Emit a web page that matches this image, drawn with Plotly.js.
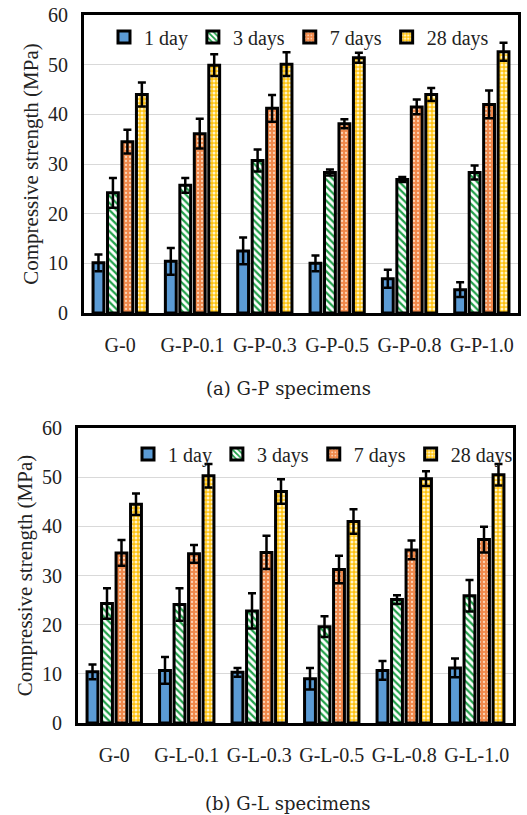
<!DOCTYPE html>
<html>
<head>
<meta charset="utf-8">
<script src="https://cdn.plot.ly/plotly-3.0.1.min.js"></script>
<style>html,body{margin:0;padding:0;background:#fff;}#chart{width:527px;height:815px;}</style>
</head>
<body>
<div id="chart"></div>
<script>
// ---- data ----
const seriesNames = ["1 day", "3 days", "7 days", "28 days"];

const gpCategories = ["G-0", "G-P-0.1", "G-P-0.3", "G-P-0.5", "G-P-0.8", "G-P-1.0"];
const gp1day   = [10.1, 10.4, 12.5, 10.0, 6.9, 4.7];
const gp3days  = [24.2, 25.7, 30.7, 28.3, 26.9, 28.3];
const gp7days  = [34.5, 36.1, 41.2, 38.1, 41.5, 42.0];
const gp28days = [44.0, 49.9, 50.1, 51.4, 44.0, 52.6];
const gp1dayErr   = [1.7, 2.7, 2.7, 1.6, 1.8, 1.5];
const gp3daysErr  = [3.0, 1.5, 2.2, 0.6, 0.5, 1.4];
const gp7daysErr  = [2.4, 3.0, 2.7, 0.9, 1.5, 2.8];
const gp28daysErr = [2.4, 2.2, 2.4, 1.0, 1.3, 1.8];

const glCategories = ["G-0", "G-L-0.1", "G-L-0.3", "G-L-0.5", "G-L-0.8", "G-L-1.0"];
const gl1day   = [10.4, 10.7, 10.3, 9.0, 10.7, 11.2];
const gl3days  = [24.3, 24.1, 22.8, 19.6, 25.1, 25.9];
const gl7days  = [34.6, 34.4, 34.7, 31.2, 35.2, 37.3];
const gl28days = [44.5, 50.3, 47.1, 41.0, 49.7, 50.5];
const gl1dayErr   = [1.5, 2.7, 0.9, 2.2, 1.9, 1.9];
const gl3daysErr  = [3.1, 3.3, 3.6, 2.1, 0.9, 3.2];
const gl7daysErr  = [2.6, 1.8, 3.4, 2.8, 1.9, 2.6];
const gl28daysErr = [2.2, 2.4, 2.5, 2.5, 1.5, 2.2];

const yTickVals = [0, 10, 20, 30, 40, 50, 60];
const captionA = "(a) G-P specimens";
const captionB = "(b) G-L specimens";
const yTitle = "Compressive strength (MPa)";

// ---- styles ----
const patterns = [
  {shape: "", bgcolor: "#5B9BD5", fgcolor: "#5B9BD5"},
  {shape: "\\", bgcolor: "#ffffff", fgcolor: "#22A04A", size: 5, solidity: 0.45},
  {shape: ".", bgcolor: "#F0884A", fgcolor: "#FBD2B4", size: 4, solidity: 0.25},
  {shape: ".", bgcolor: "#FFC20E", fgcolor: "#FFF4C8", size: 4, solidity: 0.45}
];
const serif = "'Liberation Serif', 'Times New Roman', Times, serif";
const capFont = "'DejaVu Serif', serif";

function makeTraces(cats, vals, errs, xa, ya, leg) {
  return vals.map((v, i) => ({
    type: "bar",
    name: seriesNames[i],
    x: cats, y: v,
    xaxis: xa, yaxis: ya, legend: leg,
    marker: {
      color: patterns[i].bgcolor,
      line: {color: "#000", width: 3},
      pattern: patterns[i].shape ? {
        shape: patterns[i].shape, bgcolor: patterns[i].bgcolor, fgcolor: patterns[i].fgcolor,
        size: patterns[i].size, solidity: patterns[i].solidity, fillmode: "replace"
      } : undefined
    },
    error_y: {type: "data", array: errs[i], visible: true, symmetric: true,
              color: "#000", thickness: 2.5, width: 4}
  }));
}

const traces = [
  ...makeTraces(gpCategories, [gp1day, gp3days, gp7days, gp28days],
                [gp1dayErr, gp3daysErr, gp7daysErr, gp28daysErr], "x", "y", "legend"),
  ...makeTraces(glCategories, [gl1day, gl3days, gl7days, gl28days],
                [gl1dayErr, gl3daysErr, gl7daysErr, gl28daysErr], "x2", "y2", "legend2")
];

function xAxis(domain, anchor) {
  return {domain: domain, anchor: anchor, type: "category",
    showline: true, linecolor: "#000", linewidth: 3, mirror: true,
    ticks: "", showgrid: false, ticklabelstandoff: 12, tickangle: 0,
    automargin: false,
    tickfont: {family: serif, size: 20, color: "#222"}, fixedrange: true};
}
function yAxis(domain, anchor) {
  return {domain: domain, anchor: anchor, range: [0, 60], tickvals: yTickVals,
    showline: true, linecolor: "#000", linewidth: 3, mirror: true,
    showgrid: true, gridcolor: "#d9d9d9", gridwidth: 1, zeroline: false,
    ticks: "", ticklabelstandoff: 9, automargin: false,
    tickfont: {family: serif, size: 20, color: "#222"},
    title: {text: yTitle, font: {family: serif, size: 21, color: "#222"}, standoff: 4},
    fixedrange: true};
}

const legendStyle = (y, x) => ({
  orientation: "h", x: x, y: y, xanchor: "left", yanchor: "middle",
  bgcolor: "rgba(0,0,0,0)", font: {family: serif, size: 20, color: "#222"},
  itemwidth: 30, tracegroupgap: 0
});

const layout = {
  width: 527, height: 815,
  margin: {l: 0, r: 0, t: 0, b: 0, autoexpand: false},
  paper_bgcolor: "#fff", plot_bgcolor: "#fff",
  barmode: "group", bargap: 0.2, bargroupgap: 0.25,
  showlegend: true,
  xaxis: xAxis([84/527, 518/527], "y"),
  yaxis: yAxis([1 - 313/815, 1 - 15/815], "x"),
  xaxis2: xAxis([78/527, 513/527], "y2"),
  yaxis2: yAxis([1 - 723/815, 1 - 428/815], "x2"),
  legend: legendStyle(1 - 37/815, 104/527),
  legend2: legendStyle(1 - 454/815, 128/527),
  annotations: [
    {text: captionA, xref: "paper", yref: "paper", x: 288/527, y: 1 - 388/815,
     showarrow: false, xanchor: "center", yanchor: "middle",
     font: {family: capFont, size: 18, color: "#222"}},
    {text: captionB, xref: "paper", yref: "paper", x: 288/527, y: 1 - 803/815,
     showarrow: false, xanchor: "center", yanchor: "middle",
     font: {family: capFont, size: 18, color: "#222"}}
  ]
};

Plotly.newPlot("chart", traces, layout, {staticPlot: true, displayModeBar: false});
</script>
</body>
</html>
